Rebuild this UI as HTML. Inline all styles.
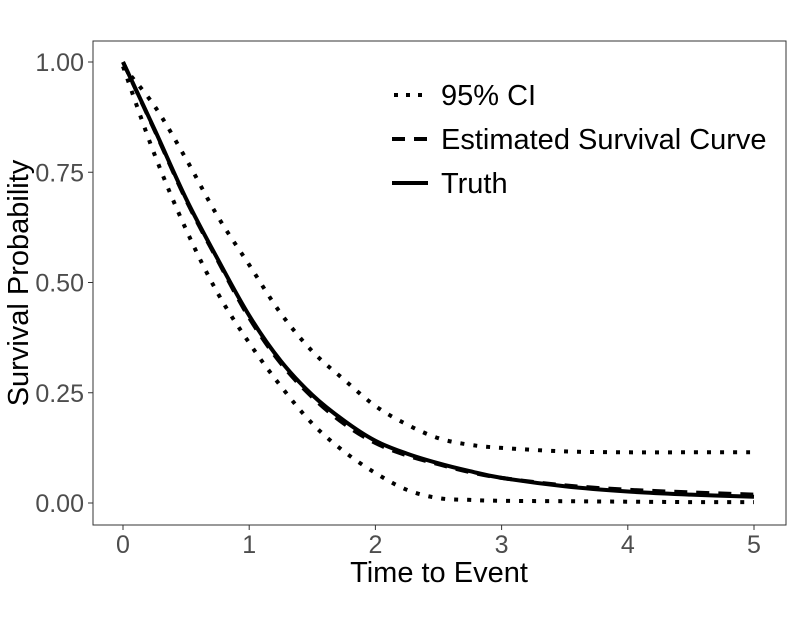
<!DOCTYPE html>
<html><head><meta charset="utf-8"><style>
html,body{margin:0;padding:0;background:#fff;}
svg{display:block;font-family:"Liberation Sans",sans-serif;}
</style></head><body>
<svg id="chart" width="793" height="626">
<rect x="93" y="41" width="693" height="484" fill="#fff" stroke="#333" stroke-width="1"/>
<g id="xaxis"></g>
<g id="yaxis"></g>
<g id="series"></g>
<text x="439" y="582" font-size="29" text-anchor="middle" fill="#000">Time to Event</text>
<text transform="translate(28,283) rotate(-90)" font-size="29" text-anchor="middle" fill="#000">Survival Probability</text>
<g>
<g>
<line x1="394" y1="95" x2="428" y2="95" stroke="#000" stroke-width="4" stroke-dasharray="4,8"/>
<text x="441" y="105" font-size="29">95% CI</text></g>
<g>
<line x1="392" y1="139" x2="428" y2="139" stroke="#000" stroke-width="4" stroke-dasharray="13,9"/>
<text x="441" y="149" font-size="29">Estimated Survival Curve</text></g>
<g>
<line x1="392" y1="183" x2="428" y2="183" stroke="#000" stroke-width="4"/>
<text x="441" y="193" font-size="29">Truth</text></g>
</g>
</svg>
<script>
const xTicks=[0,1,2,3,4,5];
const yTicks=[0,0.25,0.5,0.75,1];
const yTickLabels=["0.00","0.25","0.50","0.75","1.00"];
const times=[0,0.25,0.5,0.75,1,1.25,1.5,1.75,2,2.25,2.5,2.75,3,3.5,4,4.5,5];
const truth=[1,0.847,0.69,0.553,0.425,0.322,0.245,0.187,0.141,0.112,0.09,0.072,0.057,0.038,0.026,0.019,0.014];
const estimate=[1,0.845,0.687,0.55,0.42,0.317,0.24,0.18,0.136,0.108,0.088,0.07,0.057,0.04,0.03,0.024,0.019];
const upperCI=[0.99,0.9,0.78,0.65,0.54,0.43,0.344,0.28,0.22,0.178,0.147,0.132,0.125,0.117,0.115,0.115,0.115];
const lowerCI=[0.99,0.79,0.62,0.476,0.363,0.265,0.18,0.117,0.068,0.03,0.011,0.007,0.005,0.004,0.003,0.002,0.002];
const NS="http://www.w3.org/2000/svg";
const X=t=>123+t*(754-123)/5;
const Y=v=>503-v*(503-62);
const xg=document.getElementById('xaxis'),yg=document.getElementById('yaxis'),sg=document.getElementById('series');
function mk(tag,at,parent){const e=document.createElementNS(NS,tag);for(const k in at)e.setAttribute(k,at[k]);parent.appendChild(e);return e;}
xTicks.forEach(t=>{
 const l=mk('line',{x1:X(t),x2:X(t),y1:525,y2:530,stroke:'#333','stroke-width':1},xg);
 
 
 const tx=mk('text',{x:X(t),y:553,'font-size':25,'text-anchor':'middle',fill:'#4d4d4d'},xg);
 tx.textContent=String(t);
 
 
});
yTicks.forEach((v,i)=>{
 const l=mk('line',{x1:88,x2:93,y1:Y(v),y2:Y(v),stroke:'#333','stroke-width':1},yg);
 
 
 const tx=mk('text',{x:84,y:Y(v)+9,'font-size':25,'text-anchor':'end',fill:'#4d4d4d'},yg);
 tx.textContent=yTickLabels[i];
 
 
});
function line(vals,dash,name){
 const pts=vals.map((v,i)=>[X(times[i]),Y(v)]);
 let d='M'+pts[0][0].toFixed(1)+','+pts[0][1].toFixed(1);
 for(let i=0;i<pts.length-1;i++){
  const p0=pts[Math.max(0,i-1)],p1=pts[i],p2=pts[i+1],p3=pts[Math.min(pts.length-1,i+2)];
  const c1=[p1[0]+(p2[0]-p0[0])/6,p1[1]+(p2[1]-p0[1])/6],c2=[p2[0]-(p3[0]-p1[0])/6,p2[1]-(p3[1]-p1[1])/6];
  d+=' C'+c1.map(n=>n.toFixed(1)).join(',')+' '+c2.map(n=>n.toFixed(1)).join(',')+' '+p2.map(n=>n.toFixed(1)).join(',');
 }
 const p=mk('path',{d:d,fill:'none',stroke:'#000','stroke-width':4,'stroke-linejoin':'round'},sg);
 if(dash)p.setAttribute('stroke-dasharray',dash);
 
 
}
line(upperCI,'4,9','upper-ci-line');
line(lowerCI,'4,9','lower-ci-line');
line(estimate,'13,9','estimated-curve');
line(truth,null,'truth-curve');
</script>
</body></html>
